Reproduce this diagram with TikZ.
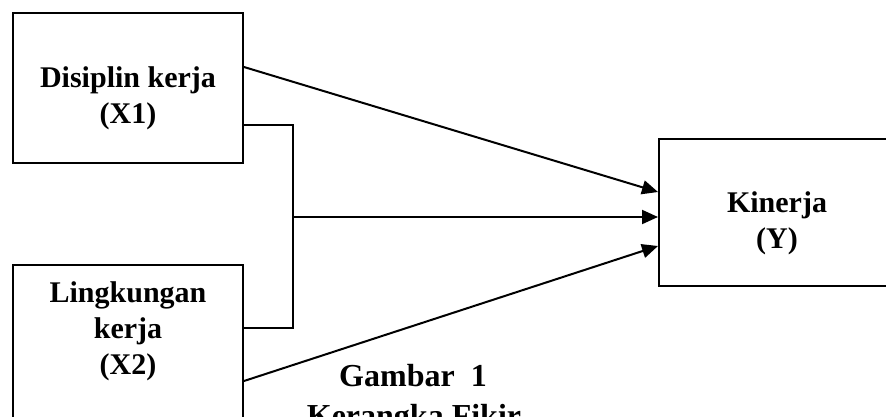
\documentclass[tikz,border=0pt]{standalone}
\usepackage{fontspec}
\setmainfont{Liberation Serif}
\usetikzlibrary{arrows.meta}
\tikzset{
  box/.style={draw=black, line width=2pt, rectangle, inner sep=0pt, fill=none},
  boxtext/.style={font=\bfseries\fontsize{30}{36}\selectfont, align=center, inner sep=0pt},
  captext/.style={font=\bfseries\fontsize{32}{38}\selectfont, inner sep=0pt, anchor=base},
  link/.style={draw=black, line width=2pt},
  arrowlink/.style={link, -{Triangle[length=16pt,width=14pt]}}
}
\begin{document}
\begin{tikzpicture}[x=1pt,y=-1pt]
\path[use as bounding box, clip] (0,0) rectangle (886,416);
\fill[white] (0,0) rectangle (886,416);
% boxes
\node[box, minimum width=230pt, minimum height=150pt,
      label={[boxtext, yshift=-10.5pt]center:Disiplin kerja\\(X1)}] (x1) at (128,88) {};
\node[box, minimum width=230pt, minimum height=170pt,
      label={[boxtext, yshift=19pt]center:Lingkungan\\kerja\\(X2)}] (x2) at (128,350) {};
\node[box, minimum width=236pt, minimum height=147pt,
      label={[boxtext, yshift=-10.5pt]center:Kinerja\\(Y)}] (y) at (777,212.5) {};
% connectors
\coordinate (j) at (293,217);
\draw[link] ([yshift=-37pt]x1.east) -| (j) |- ([yshift=22pt]x2.east);
\draw[arrowlink] ([yshift=21pt]x1.east) -- ([yshift=20.5pt]y.west);
\draw[arrowlink] (j) -- (y.west |- j);
\draw[arrowlink] ([yshift=-31pt]x2.east) -- ([yshift=-33.5pt]y.west);
% caption
\node[captext] (cap1) at (413,386) {Gambar\ \ 1};
\node[captext] (cap2) at (414,426) {Kerangka Fikir};
\end{tikzpicture}
\end{document}
